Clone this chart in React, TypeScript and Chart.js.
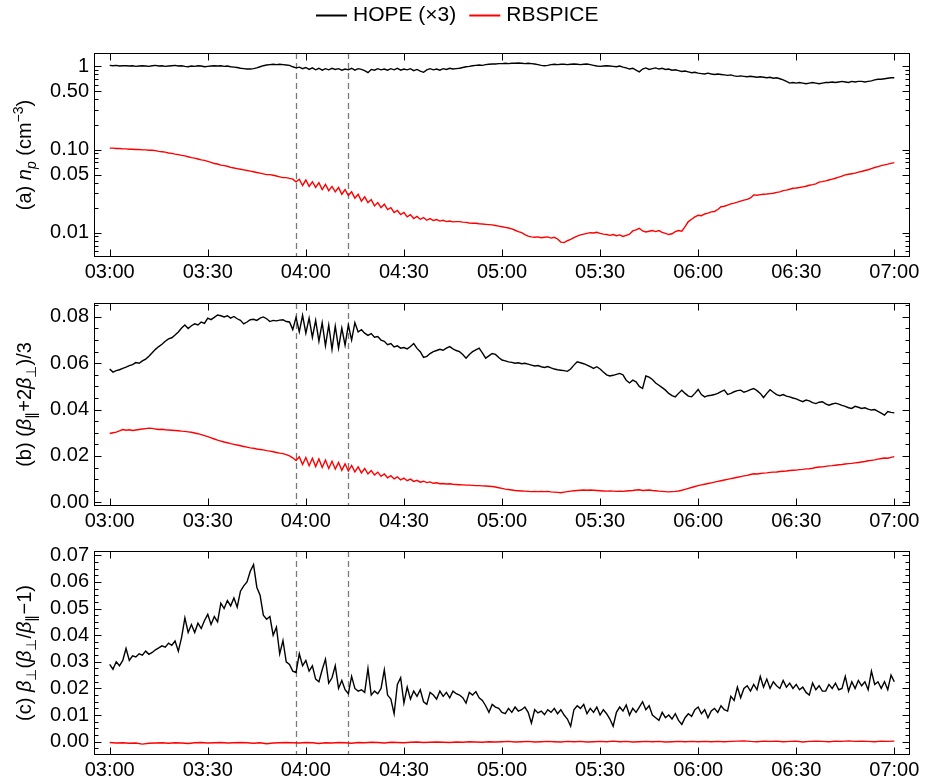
import React, { useEffect, useRef } from "react";
import { Chart, registerables } from "chart.js";

Chart.register(...registerables);

const FONT = '"Liberation Sans", Arial, Helvetica, sans-serif';
const TICK_SIZE = 20;

// ---------- time axis ----------
const SAMPLE_STEP_MIN = 1; // minutes after 03:00 between samples
const RBSPICE_ANISO_STEP_MIN = 2;
const timeTicksMin = [0, 30, 60, 90, 120, 150, 180, 210, 240];
const timeTickLabels = ["03:00", "03:30", "04:00", "04:30", "05:00", "05:30", "06:00", "06:30", "07:00"];
const markerTimesMin = [57, 73];

const seriesNames = ["HOPE (×3)", "RBSPICE"];
const seriesColors = ["#000000", "#ff0000"];

// ---------- (a) proton density, cm^-3 ----------
const hopeDensity = [
  1.03, 1.02, 1.03, 1.01, 1.02, 1.02, 1.01, 1.02, 1.0, 1.01,
  1.02, 1.01, 1.0, 1.02, 1.03, 1.01, 1.02, 1.0, 1.01, 1.02,
  1.03, 1.01, 1.02, 1.0, 0.99, 1.01, 1.0, 1.02, 1.01, 0.99,
  1.0, 1.01, 1.02, 1.01, 1.02, 1.0, 1.01, 0.99, 0.98, 0.97,
  0.95, 0.94, 0.93, 0.93, 0.94, 0.96, 0.99, 1.02, 1.04, 1.05,
  1.06, 1.05, 1.06, 1.05, 1.04, 1.03, 0.99, 0.96, 0.98, 0.94,
  0.97, 0.92, 0.96, 0.91, 0.95, 0.9, 0.94, 0.91, 0.95, 0.92,
  0.94, 0.9, 0.93, 0.91, 0.95, 0.9, 0.94, 0.92, 0.89, 0.84,
  0.92, 0.9, 0.94, 0.91, 0.93, 0.9, 0.94, 0.91, 0.95, 0.9,
  0.93, 0.91, 0.94, 0.89, 0.92, 0.88, 0.85, 0.91, 0.94, 0.91,
  0.93, 0.9, 0.94, 0.92, 0.95, 0.93, 0.94, 0.95, 0.97, 0.99,
  1.0, 1.02, 1.03, 1.04, 1.03, 1.05, 1.06, 1.07, 1.07, 1.08,
  1.08, 1.09, 1.08, 1.09, 1.09, 1.1, 1.09, 1.08, 1.09, 1.08,
  1.07, 1.05, 1.03, 1.02, 1.03, 1.05, 1.06, 1.05, 1.06, 1.06,
  1.05, 1.06, 1.07, 1.06, 1.05, 1.06, 1.07, 1.05, 1.03, 1.01,
  1.0, 1.01, 1.02, 1.01, 1.0, 0.99, 1.01, 0.98, 0.96, 0.93,
  0.95, 0.9, 0.86, 0.93, 0.96, 0.92, 0.94, 0.96, 0.93, 0.95,
  0.92, 0.93, 0.9, 0.91, 0.89, 0.87, 0.88, 0.86, 0.84, 0.85,
  0.83, 0.82, 0.81, 0.83, 0.81, 0.8, 0.81, 0.8, 0.79, 0.78,
  0.79, 0.77, 0.76, 0.77, 0.76, 0.75, 0.76, 0.75, 0.74, 0.75,
  0.74, 0.73, 0.74, 0.72, 0.73, 0.71, 0.69, 0.66, 0.63, 0.64,
  0.63, 0.64, 0.63, 0.62, 0.63, 0.64, 0.63, 0.62, 0.63, 0.64,
  0.64, 0.65, 0.64, 0.65, 0.66, 0.65, 0.64, 0.66, 0.65, 0.66,
  0.66, 0.65, 0.66, 0.67, 0.69, 0.7, 0.7, 0.71, 0.72, 0.73,
  0.73,
];
const rbspiceDensity = [
  0.104, 0.104, 0.103, 0.103, 0.102, 0.102, 0.101, 0.101, 0.1, 0.1,
  0.099, 0.099, 0.098, 0.098, 0.097, 0.095, 0.094, 0.093, 0.091, 0.09,
  0.088, 0.087, 0.085, 0.084, 0.082, 0.08, 0.079, 0.077, 0.075, 0.074,
  0.072, 0.07, 0.068, 0.067, 0.065, 0.064, 0.063, 0.061, 0.06, 0.059,
  0.058, 0.057, 0.056, 0.055, 0.054, 0.053, 0.052, 0.051, 0.05, 0.05,
  0.049, 0.048, 0.047, 0.046, 0.046, 0.045, 0.044, 0.041, 0.044, 0.037,
  0.043, 0.036, 0.041, 0.035, 0.04, 0.033, 0.038, 0.032, 0.036, 0.031,
  0.035, 0.029, 0.033, 0.028, 0.031, 0.026, 0.029, 0.024, 0.027, 0.023,
  0.025, 0.021, 0.023, 0.02, 0.022, 0.019, 0.02, 0.0175, 0.0185, 0.0165,
  0.0175, 0.0155, 0.0165, 0.0148, 0.0157, 0.0145, 0.0152, 0.0141, 0.0148, 0.014,
  0.0144, 0.0138, 0.0141, 0.0136, 0.0138, 0.0135, 0.0136, 0.0136, 0.0134, 0.0133,
  0.0131, 0.013, 0.013, 0.0128, 0.0127, 0.0126, 0.0125, 0.0124, 0.0122, 0.012,
  0.0118, 0.0116, 0.0114, 0.0111, 0.0107, 0.0103, 0.01, 0.0095, 0.0091, 0.0089,
  0.0088, 0.0089, 0.0087, 0.0088, 0.0089, 0.0086, 0.0088, 0.0084, 0.0077, 0.0076,
  0.008, 0.0083, 0.0087, 0.0091, 0.0094, 0.0096, 0.0098, 0.01, 0.0099, 0.0101,
  0.0098, 0.0096, 0.0095, 0.0093, 0.0095, 0.0092, 0.0094, 0.009, 0.0093, 0.0096,
  0.0105, 0.0108, 0.0113, 0.0105, 0.0102, 0.0104, 0.0106, 0.0103, 0.0106, 0.0101,
  0.0098, 0.0095, 0.0097, 0.0103, 0.0106, 0.0104, 0.0118, 0.0136, 0.0145, 0.0155,
  0.0162, 0.016, 0.0168, 0.0172, 0.0178, 0.018, 0.019, 0.0205, 0.0208, 0.0215,
  0.0222, 0.0227, 0.0233, 0.024, 0.0246, 0.0252, 0.0262, 0.0285, 0.0282, 0.0287,
  0.029, 0.0292, 0.0295, 0.0298, 0.0305, 0.031, 0.0321, 0.0325, 0.0333, 0.0342,
  0.0345, 0.035, 0.0356, 0.0362, 0.0372, 0.0378, 0.0386, 0.0405, 0.0412, 0.042,
  0.043, 0.044, 0.0452, 0.0465, 0.048, 0.0495, 0.0505, 0.0512, 0.052, 0.0535,
  0.0545, 0.056, 0.0572, 0.059, 0.0608, 0.0624, 0.064, 0.0655, 0.0668, 0.0683,
  0.0697,
];

// ---------- (b) (beta_par + 2 beta_perp)/3 ----------
const hopeBeta = [
  0.0575, 0.0562, 0.0568, 0.0572, 0.0578, 0.0583, 0.059, 0.0594, 0.0603, 0.06,
  0.061, 0.0618, 0.063, 0.0645, 0.066, 0.0672, 0.0682, 0.0695, 0.0705, 0.071,
  0.0722, 0.0735, 0.0752, 0.0765, 0.075, 0.0762, 0.077, 0.0765, 0.0778, 0.0772,
  0.0795, 0.0788, 0.0798, 0.0808, 0.0805, 0.08, 0.0805, 0.0795, 0.0802, 0.0792,
  0.0785, 0.077, 0.0778, 0.0788, 0.079, 0.0785, 0.0795, 0.08, 0.0792, 0.078,
  0.0785, 0.0783, 0.0786, 0.0788, 0.078, 0.0778, 0.0745, 0.0798, 0.0735, 0.0807,
  0.073, 0.0795, 0.0712, 0.0785, 0.0695, 0.0775, 0.0675, 0.0765, 0.066, 0.076,
  0.0665, 0.0752, 0.0678, 0.0765, 0.07, 0.0775, 0.0735, 0.0745, 0.073, 0.072,
  0.0728, 0.0712, 0.0715, 0.07, 0.0695, 0.068, 0.0685, 0.067, 0.0675, 0.0665,
  0.0668, 0.0662, 0.0672, 0.0685, 0.0664, 0.065, 0.0625, 0.063, 0.0642, 0.065,
  0.0655, 0.066, 0.0656, 0.0665, 0.0672, 0.0662, 0.0655, 0.065, 0.0638, 0.0622,
  0.0638, 0.065, 0.0658, 0.0665, 0.0645, 0.0622, 0.0632, 0.0642, 0.0638, 0.0625,
  0.0614, 0.061, 0.0606, 0.0604, 0.06, 0.0602, 0.0598, 0.06, 0.0596, 0.0592,
  0.0588, 0.059, 0.0585, 0.0582, 0.0586, 0.058, 0.0575, 0.0572, 0.057, 0.0568,
  0.0565, 0.0575, 0.0592, 0.0606, 0.0602, 0.0598, 0.0592, 0.0585, 0.0578, 0.0585,
  0.0575, 0.0562, 0.055, 0.0545, 0.0548, 0.0552, 0.0556, 0.055, 0.0527, 0.0515,
  0.0527, 0.052, 0.05, 0.0491, 0.0545, 0.054, 0.053, 0.0515, 0.0505, 0.0495,
  0.0484, 0.047, 0.046, 0.0455, 0.047, 0.0484, 0.047, 0.0458, 0.0455, 0.047,
  0.0487, 0.0465, 0.0455, 0.046, 0.0462, 0.0465, 0.047, 0.0478, 0.0484, 0.0465,
  0.047, 0.0477, 0.0482, 0.0484, 0.0475, 0.048, 0.0486, 0.0491, 0.0482, 0.047,
  0.0452, 0.047, 0.0486, 0.0475, 0.0465, 0.046, 0.0465, 0.0458, 0.0455, 0.045,
  0.0446, 0.044, 0.0434, 0.0441, 0.0438, 0.043, 0.0426, 0.0432, 0.0434, 0.0425,
  0.0419, 0.0424, 0.0428, 0.0424, 0.0418, 0.0414, 0.0408, 0.0405, 0.0414, 0.041,
  0.0405, 0.0408, 0.0402, 0.0398, 0.04, 0.0392, 0.0385, 0.0376, 0.0392, 0.0388,
  0.0386,
];
const rbspiceBeta = [
  0.0297, 0.03, 0.0303, 0.0308, 0.0314, 0.0311, 0.0313, 0.031, 0.0312, 0.0314,
  0.0316, 0.0318, 0.032, 0.0319, 0.0316, 0.0314, 0.0315, 0.0313, 0.0312, 0.0311,
  0.031, 0.0309, 0.0307, 0.0306, 0.0304, 0.0302, 0.0299, 0.0296, 0.0292, 0.0288,
  0.0283, 0.0278, 0.0273, 0.0268, 0.0264, 0.026, 0.0257, 0.0253, 0.025, 0.0247,
  0.0244, 0.0241, 0.0238, 0.0235, 0.0233, 0.023, 0.0228, 0.0226, 0.0223, 0.0221,
  0.0218, 0.0215, 0.0212, 0.021, 0.0206, 0.02, 0.0192, 0.018, 0.0196, 0.0163,
  0.0193, 0.0158, 0.019, 0.0154, 0.0187, 0.015, 0.0182, 0.0146, 0.0177, 0.0143,
  0.0172, 0.0138, 0.0166, 0.0135, 0.0159, 0.0131, 0.0153, 0.0127, 0.0146, 0.0123,
  0.0137, 0.0118, 0.013, 0.0112, 0.0122, 0.0106, 0.0115, 0.0101, 0.011, 0.0097,
  0.0104, 0.0093, 0.01, 0.009, 0.0095, 0.0087, 0.0091, 0.0085, 0.0088, 0.0082,
  0.0084, 0.008, 0.0081, 0.0079, 0.008, 0.0078, 0.0077, 0.0076, 0.0075, 0.0074,
  0.0074, 0.0073, 0.0072, 0.0072, 0.0071, 0.007, 0.0069, 0.0068, 0.0066, 0.0063,
  0.006, 0.0057, 0.0055, 0.0053, 0.0051, 0.005, 0.0049, 0.0048, 0.0047, 0.0046,
  0.0047, 0.0046, 0.0047, 0.0046, 0.0047, 0.0045, 0.0044, 0.0043, 0.0041, 0.0044,
  0.0046, 0.0048, 0.005, 0.0051, 0.0052, 0.0053, 0.0052, 0.0053, 0.0052, 0.0051,
  0.005, 0.0049, 0.0048, 0.0049, 0.0048, 0.0047, 0.0048, 0.0047, 0.0049, 0.005,
  0.0051, 0.0053, 0.0054, 0.0051, 0.0052, 0.0053, 0.0051, 0.005, 0.0048, 0.0047,
  0.0046, 0.0045, 0.0046, 0.0047, 0.0049, 0.0052, 0.0056, 0.006, 0.0064, 0.0068,
  0.0072, 0.0075, 0.0078, 0.0081, 0.0084, 0.0087, 0.009, 0.0093, 0.0096, 0.0099,
  0.0102, 0.0105, 0.0108, 0.0111, 0.0114, 0.0116, 0.012, 0.0123, 0.0122, 0.0124,
  0.0126, 0.0127, 0.0129, 0.013, 0.0131, 0.0133, 0.0134, 0.0135, 0.0137, 0.0138,
  0.0139, 0.0141, 0.0142, 0.0144, 0.0145, 0.0147, 0.015, 0.0152, 0.0153, 0.0155,
  0.0157, 0.0158, 0.016, 0.0162, 0.0163, 0.0165, 0.0167, 0.0168, 0.017, 0.0172,
  0.0174, 0.0176, 0.0179, 0.0181, 0.0183, 0.0186, 0.0189, 0.0191, 0.019, 0.0194,
  0.0197,
];

// ---------- (c) beta_perp (beta_perp/beta_par - 1) ----------
const hopeAniso = [
  0.029, 0.0272, 0.03, 0.0285, 0.0305, 0.035, 0.0305, 0.0322, 0.0318, 0.033,
  0.0325, 0.034, 0.0328, 0.0335, 0.0345, 0.0352, 0.036, 0.0355, 0.037, 0.0362,
  0.0378, 0.034, 0.0392, 0.0465, 0.041, 0.044, 0.041, 0.0445, 0.0425, 0.0455,
  0.0478, 0.044, 0.047, 0.045, 0.052, 0.05, 0.053, 0.051, 0.054, 0.0505,
  0.0565, 0.0585, 0.06, 0.064, 0.0665, 0.058, 0.055, 0.0475, 0.046, 0.047,
  0.04, 0.043, 0.033, 0.038, 0.03, 0.029, 0.0265, 0.026, 0.033, 0.0285,
  0.0305, 0.0265, 0.0285, 0.0235, 0.0225, 0.027, 0.031, 0.022, 0.024, 0.0285,
  0.02, 0.023, 0.0195, 0.018, 0.0245, 0.02, 0.019, 0.0195, 0.0185, 0.0275,
  0.0175, 0.019, 0.018, 0.02, 0.027, 0.0175, 0.016, 0.0105, 0.0215, 0.024,
  0.0145, 0.0205, 0.016, 0.019, 0.017, 0.0195, 0.015, 0.014, 0.0185, 0.0175,
  0.016, 0.019, 0.017, 0.0185, 0.0165, 0.019, 0.018, 0.0175, 0.0165, 0.0145,
  0.0185, 0.0175, 0.0188, 0.0165, 0.0155, 0.0135, 0.011, 0.014, 0.013, 0.0125,
  0.011, 0.0105, 0.0125, 0.011, 0.013, 0.0115, 0.012, 0.013, 0.011, 0.007,
  0.012, 0.0108, 0.0115, 0.0102, 0.012, 0.011, 0.0125, 0.0105, 0.012, 0.01,
  0.0085, 0.0058, 0.012, 0.0135, 0.0125, 0.014, 0.0105, 0.0125, 0.011, 0.013,
  0.01, 0.012, 0.0105, 0.0085, 0.0058, 0.011, 0.013, 0.0115, 0.0138, 0.01,
  0.0125, 0.011, 0.013, 0.015, 0.012, 0.0135, 0.01, 0.009, 0.008, 0.011,
  0.009, 0.01, 0.0085, 0.0105, 0.008, 0.0065, 0.009, 0.0105, 0.0095, 0.012,
  0.013, 0.0105, 0.012, 0.009, 0.0115, 0.0125, 0.011, 0.0135, 0.012, 0.0115,
  0.017, 0.0155, 0.0205, 0.0165, 0.02, 0.021, 0.019, 0.0215, 0.0195, 0.0245,
  0.0205, 0.0235, 0.02, 0.0225, 0.021, 0.02, 0.023, 0.0205, 0.022, 0.02,
  0.0215, 0.0195, 0.0205, 0.0185, 0.0175, 0.022, 0.0195, 0.021, 0.019, 0.019,
  0.0215, 0.02, 0.022, 0.0195, 0.02, 0.0245, 0.019, 0.0225, 0.02, 0.023,
  0.021, 0.0225, 0.0195, 0.0265, 0.0215, 0.0225, 0.02, 0.0225, 0.0195, 0.025,
  0.0225,
];
const rbspiceAniso = [
  -0.0003, -0.0005, -0.0004, -0.0006, -0.0005, -0.0009, -0.0006, -0.0005, -0.0004, -0.0006,
  -0.0004, -0.0005, -0.0007, -0.0004, -0.0003, -0.0005, -0.0004, -0.0003, -0.0005, -0.0004,
  -0.0003, -0.0004, -0.0006, -0.0004, -0.0008, -0.0005, -0.0004, -0.0003, -0.0004, -0.0005,
  -0.0003, -0.0004, -0.0007, -0.0004, -0.0005, -0.0003, -0.0004, -0.0006, -0.0003, -0.0004,
  -0.0002, -0.0003, -0.0005, -0.0002, -0.0003, -0.0004, -0.0002, -0.0001, -0.0003, -0.0002,
  -0.0001, -0.0002, -0.0003, -0.0001, -0.0002, 0.0, -0.0001, -0.0002, 0.0, -0.0001,
  0.0, 0.0001, -0.0001, 0.0, 0.0001, -0.0001, 0.0, 0.0001, 0.0, -0.0001,
  0.0001, 0.0, 0.0001, -0.0001, 0.0, 0.0001, 0.0, 0.0002, 0.0, 0.0001,
  -0.0001, 0.0, 0.0001, 0.0, 0.0001, -0.0001, 0.0, 0.0001, 0.0, 0.0001,
  0.0, 0.0001, 0.0, 0.0001, 0.0, 0.0001, 0.0002, 0.0003, 0.0001, 0.0,
  0.0002, 0.0001, 0.0002, 0.0, 0.0001, 0.0002, -0.0001, 0.0001, 0.0002, 0.0001,
  0.0, 0.0002, 0.0001, 0.0003, 0.0001, 0.0002, 0.0001, 0.0, 0.0002, 0.0001,
  0.0002,
];

// ---------- value-axis ticks ----------
const densityTicks = [0.01, 0.05, 0.1, 0.5, 1];
const densityTickLabels = ["0.01", "0.05", "0.10", "0.50", "1"];
const betaTicks = [0, 0.02, 0.04, 0.06, 0.08];
const betaTickLabels = ["0.00", "0.02", "0.04", "0.06", "0.08"];
const anisoTicks = [0, 0.01, 0.02, 0.03, 0.04, 0.05, 0.06, 0.07];
const anisoTickLabels = ["0.00", "0.01", "0.02", "0.03", "0.04", "0.05", "0.06", "0.07"];

type Seg = { t: string; it?: boolean; sub?: boolean; sup?: boolean };

const titleA: Seg[] = [
  { t: "(a) " }, { t: "n", it: true }, { t: "p", it: true, sub: true },
  { t: " (cm" }, { t: "−3", sup: true }, { t: ")" },
];
const titleB: Seg[] = [
  { t: "(b) (" }, { t: "β", it: true }, { t: "∥", sub: true }, { t: "+2" },
  { t: "β", it: true }, { t: "⊥", sub: true }, { t: ")/3" },
];
const titleC: Seg[] = [
  { t: "(c) " }, { t: "β", it: true }, { t: "⊥", sub: true }, { t: "(" },
  { t: "β", it: true }, { t: "⊥", sub: true }, { t: "/" }, { t: "β", it: true },
  { t: "∥", sub: true }, { t: "−1)" },
];

function linearMinors(from: number, to: number, step: number): number[] {
  const out: number[] = [];
  const n = Math.round((to - from) / step);
  for (let i = 0; i <= n; i++) out.push(+(from + i * step).toFixed(6));
  return out;
}
function logMinors(minExp: number, maxExp: number): number[] {
  const out: number[] = [];
  for (let e = minExp; e <= maxExp; e++) for (let m = 1; m < 10; m++) out.push(m * Math.pow(10, e));
  return out;
}

interface PanelSpec {
  height: number;
  padTop: number;
  xAxisHeight: number;
  yType: "linear" | "logarithmic";
  yMin: number;
  yMax: number;
  yTicks: number[];
  yLabels: string[];
  yMinors: number[];
  title: Seg[];
  legend: boolean;
  hope: { x: number; y: number }[];
  rbspice: { x: number; y: number }[];
}

const toPoints = (vals: number[], step: number) => vals.map((v, i) => ({ x: i * step, y: v }));

function segFont(s: Seg, size: number) {
  const sz = s.sub || s.sup ? Math.round(size * 0.72) : size;
  return `${s.it ? "italic " : ""}${sz}px ${FONT}`;
}

function drawRich(ctx: CanvasRenderingContext2D, segs: Seg[], cx: number, cy: number, size: number) {
  ctx.save();
  let total = 0;
  const widths = segs.map((s) => {
    ctx.font = segFont(s, size);
    const w = ctx.measureText(s.t).width;
    total += w;
    return w;
  });
  ctx.translate(cx, cy);
  ctx.rotate(-Math.PI / 2);
  ctx.fillStyle = "#000";
  ctx.textBaseline = "alphabetic";
  ctx.textAlign = "left";
  let x = -total / 2;
  const base = size * 0.36;
  segs.forEach((s, i) => {
    ctx.font = segFont(s, size);
    let y = base;
    if (s.sub) y += size * 0.22;
    if (s.sup) y -= size * 0.4;
    ctx.fillText(s.t, x, y);
    x += widths[i];
  });
  ctx.restore();
}

function makeChart(canvas: HTMLCanvasElement, spec: PanelSpec) {
  const decor = {
    id: "decor",
    beforeDatasetsDraw(chart: any) {
      const { ctx, chartArea: a, scales } = chart;
      ctx.save();
      ctx.strokeStyle = "#7a7a7a";
      ctx.lineWidth = 1.3;
      ctx.setLineDash([6, 4]);
      for (const m of markerTimesMin) {
        const px = Math.round(scales.x.getPixelForValue(m)) + 0.5;
        ctx.beginPath();
        ctx.moveTo(px, a.top);
        ctx.lineTo(px, a.bottom);
        ctx.stroke();
      }
      ctx.restore();
    },
    afterDraw(chart: any) {
      const { ctx, chartArea: a, scales } = chart;
      const L = Math.round(a.left) + 0.5, R = Math.round(a.right) - 0.5;
      const T = Math.round(a.top) + 0.5, B = Math.round(a.bottom) - 0.5;
      ctx.save();
      ctx.strokeStyle = "#000";
      ctx.lineWidth = 1;
      ctx.setLineDash([]);
      ctx.strokeRect(L, T, R - L, B - T);
      ctx.beginPath();
      for (const v of timeTicksMin) {
        const px = Math.round(scales.x.getPixelForValue(v)) + 0.5;
        ctx.moveTo(px, B); ctx.lineTo(px, B - 7);
        ctx.moveTo(px, T); ctx.lineTo(px, T + 7);
      }
      const drawY = (v: number, len: number) => {
        const py = scales.y.getPixelForValue(v);
        if (py < a.top + 0.5 || py > a.bottom - 0.5) return;
        const p = Math.round(py) + 0.5;
        ctx.moveTo(L, p); ctx.lineTo(L + len, p);
        ctx.moveTo(R, p); ctx.lineTo(R - len, p);
      };
      spec.yMinors.forEach((v) => drawY(v, 4));
      spec.yTicks.forEach((v) => drawY(v, 7));
      ctx.stroke();
      ctx.restore();

      drawRich(ctx, spec.title, 24, (a.top + a.bottom) / 2, 20);

      if (spec.legend) {
        ctx.save();
        ctx.font = `21px ${FONT}`;
        ctx.textBaseline = "middle";
        ctx.fillStyle = "#000";
        const y = 15.5;
        let x = 316;
        seriesNames.forEach((name, i) => {
          ctx.strokeStyle = seriesColors[i];
          ctx.lineWidth = 2;
          ctx.beginPath();
          ctx.moveTo(x, y); ctx.lineTo(x + 31, y);
          ctx.stroke();
          x += 37;
          ctx.fillText(name, x, y);
          x += ctx.measureText(name).width + 13;
        });
        ctx.restore();
      }
    },
  };

  return new Chart(canvas, {
    type: "line",
    data: {
      datasets: [
        { label: seriesNames[0], data: spec.hope, borderColor: seriesColors[0], borderWidth: 1.4, pointRadius: 0, tension: 0 },
        { label: seriesNames[1], data: spec.rbspice, borderColor: seriesColors[1], borderWidth: 1.4, pointRadius: 0, tension: 0 },
      ],
    },
    options: {
      responsive: false,
      animation: false,
      events: [],
      layout: { padding: { top: spec.padTop, right: 20, left: 0, bottom: 0 } },
      plugins: { legend: { display: false }, tooltip: { enabled: false } },
      scales: {
        x: {
          type: "linear",
          min: -4.8,
          max: 244.8,
          grid: { display: false, drawTicks: false },
          border: { display: false },
          afterBuildTicks: (s: any) => { s.ticks = timeTicksMin.map((v) => ({ value: v })); },
          afterFit: (s: any) => { s.height = spec.xAxisHeight; s.paddingLeft = 0; s.paddingRight = 0; },
          ticks: {
            autoSkip: false,
            maxRotation: 0,
            padding: 3,
            color: "#000",
            font: { family: FONT, size: TICK_SIZE },
            callback: (_v: any, i: number) => timeTickLabels[i],
          },
        },
        y: {
          type: spec.yType,
          min: spec.yMin,
          max: spec.yMax,
          grid: { display: false, drawTicks: false },
          border: { display: false },
          afterBuildTicks: (s: any) => { s.ticks = spec.yTicks.map((v) => ({ value: v })); },
          afterFit: (s: any) => { s.width = 94; s.paddingTop = 0; s.paddingBottom = 0; },
          ticks: {
            autoSkip: false,
            padding: 5,
            color: "#000",
            font: { family: FONT, size: TICK_SIZE },
            callback: (_v: any, i: number) => spec.yLabels[i],
          },
        },
      },
    } as any,
    plugins: [decor],
  });
}

const panelA: PanelSpec = {
  height: 290, padTop: 53, xAxisHeight: 33,
  yType: "logarithmic", yMin: 0.0051, yMax: 1.45,
  yTicks: densityTicks, yLabels: densityTickLabels, yMinors: logMinors(-3, 0),
  title: titleA, legend: true,
  hope: toPoints(hopeDensity, SAMPLE_STEP_MIN), rbspice: toPoints(rbspiceDensity, SAMPLE_STEP_MIN),
};
const panelB: PanelSpec = {
  height: 250, padTop: 13, xAxisHeight: 34,
  yType: "linear", yMin: -0.0016, yMax: 0.086,
  yTicks: betaTicks, yLabels: betaTickLabels, yMinors: linearMinors(0, 0.085, 0.005),
  title: titleB, legend: false,
  hope: toPoints(hopeBeta, SAMPLE_STEP_MIN), rbspice: toPoints(rbspiceBeta, SAMPLE_STEP_MIN),
};
const panelC: PanelSpec = {
  height: 244, padTop: 11, xAxisHeight: 29,
  yType: "linear", yMin: -0.005, yMax: 0.0716,
  yTicks: anisoTicks, yLabels: anisoTickLabels, yMinors: linearMinors(-0.005, 0.07, 0.0025),
  title: titleC, legend: false,
  hope: toPoints(hopeAniso, SAMPLE_STEP_MIN), rbspice: toPoints(rbspiceAniso, RBSPICE_ANISO_STEP_MIN),
};

export default function App() {
  const refA = useRef<HTMLCanvasElement>(null);
  const refB = useRef<HTMLCanvasElement>(null);
  const refC = useRef<HTMLCanvasElement>(null);

  useEffect(() => {
    const charts = [
      makeChart(refA.current!, panelA),
      makeChart(refB.current!, panelB),
      makeChart(refC.current!, panelC),
    ];
    return () => charts.forEach((c) => c.destroy());
  }, []);

  return (
    <div style={{ position: "absolute", left: 0, top: 0, width: 930, height: 784, background: "#fff" }}>
      <canvas ref={refA} width={930} height={290} style={{ position: "absolute", left: 0, top: 0, width: 930, height: 290 }} />
      <canvas ref={refB} width={930} height={250} style={{ position: "absolute", left: 0, top: 290, width: 930, height: 250 }} />
      <canvas ref={refC} width={930} height={244} style={{ position: "absolute", left: 0, top: 540, width: 930, height: 244 }} />
    </div>
  );
}
